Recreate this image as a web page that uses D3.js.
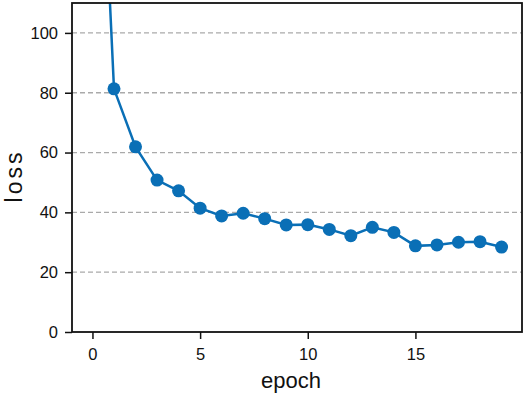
<!DOCTYPE html>
<html><head><meta charset="utf-8">
<script src="https://cdn.jsdelivr.net/npm/d3@7"></script>
<style>body{margin:0;background:#fff}</style>
</head><body>
<svg id="c" width="526" height="396"></svg>
<script>
const epochs = [0,1,2,3,4,5,6,7,8,9,10,11,12,13,14,15,16,17,18,19];
const loss = [235,81.3,61.9,50.8,47.2,41.4,38.8,39.7,37.9,35.8,35.9,34.3,32.2,35.0,33.3,28.8,29.1,30.0,30.2,28.4];
const xTicks = [0,5,10,15];
const yTicks = [0,20,40,60,80,100];
const gridTicks = [20,40,60,80,100];

const svg = d3.select("#c");
const m = {l:72, r:4, t:3, b:64};
const W = 526, H = 396;
const x = d3.scaleLinear().domain([-0.95,19.95]).range([m.l, W-m.r]);
const y = d3.scaleLinear().domain([0,110]).range([H-m.b, m.t]);
const font = "'Liberation Sans', Arial, sans-serif";
const color = "#0a6fb6";

svg.append("defs").append("clipPath").attr("id","clip")
  .append("rect").attr("x",m.l).attr("y",m.t).attr("width",W-m.r-m.l).attr("height",H-m.b-m.t);

svg.append("g").selectAll("line").data(gridTicks).join("line")
  .attr("x1",m.l).attr("x2",W-m.r).attr("y1",d=>y(d)).attr("y2",d=>y(d))
  .attr("stroke","#aaaaaa").attr("stroke-width",1.3).attr("stroke-dasharray","5,3");

const g = svg.append("g").attr("clip-path","url(#clip)");
g.append("path").datum(epochs.map((e,i)=>[e,loss[i]]))
  .attr("fill","none").attr("stroke",color).attr("stroke-width",2.5)
  .attr("d", d3.line().x(d=>x(d[0])).y(d=>y(d[1])));
g.selectAll("circle").data(epochs.map((e,i)=>[e,loss[i]])).join("circle")
  .attr("cx",d=>x(d[0])).attr("cy",d=>y(d[1])).attr("r",6.5).attr("fill",color);

const xa = svg.append("g").attr("transform",`translate(0,${H-m.b})`)
  .call(d3.axisBottom(x).tickValues(xTicks).tickSize(7).tickPadding(9).tickSizeOuter(0));
const ya = svg.append("g").attr("transform",`translate(${m.l},0)`)
  .call(d3.axisLeft(y).tickValues(yTicks).tickSize(7).tickPadding(7).tickSizeOuter(0));
[xa,ya].forEach(a=>{
  a.select(".domain").remove();
  a.selectAll("line").attr("stroke","#111").attr("stroke-width",1.5);
  a.selectAll("text").attr("font-family",font).attr("font-size",16.5).attr("fill","#111");
});

svg.append("rect").attr("x",m.l).attr("y",m.t).attr("width",W-m.r-m.l).attr("height",H-m.b-m.t)
  .attr("fill","none").attr("stroke","#111").attr("stroke-width",1.8);

svg.append("text").attr("x",291).attr("y",388).attr("text-anchor","middle")
  .attr("font-family",font).attr("font-size",22).attr("fill","#111").text("epoch");
svg.append("text").attr("transform",`translate(22,176) rotate(-90)`)
  .attr("text-anchor","middle").attr("font-family",font).attr("font-size",23)
  .attr("letter-spacing","3px").attr("fill","#111").text("loss");
</script>
</body></html>
